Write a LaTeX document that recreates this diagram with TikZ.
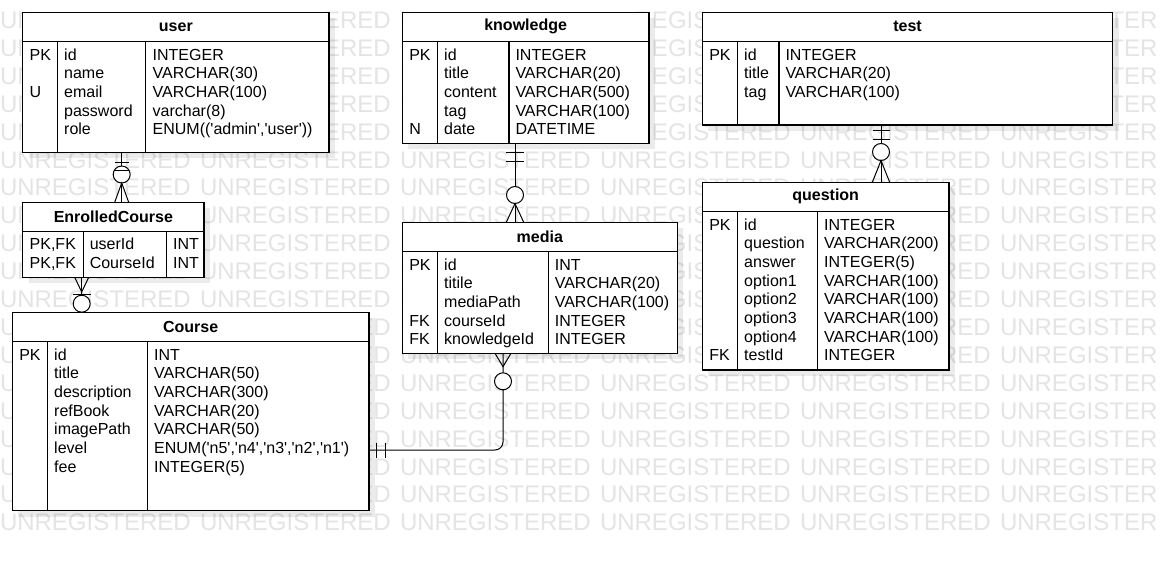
\documentclass[tikz,border=0pt]{standalone}
\usepackage{fontspec}
\setmainfont{Liberation Sans}
\definecolor{wm}{HTML}{E4E4E4}
\newcommand\mysq{\textquotesingle}
\newcount\wmcount
\gdef\wmcur{}
\def\wmtables{22.7/12.3/329/152.3, 22.7/202.3/204/277.3, 12.3/312.3/369/510.7, 402.3/12.3/649/143.3, 402.3/222.3/677.3/353.3, 702.3/12.3/1112.7/125, 702.3/182.3/949/370}
\newcommand\wmflush[1]{%
  \ifx\wmcur\empty\else
    \node[wmark] (wm-\the\wmcount) at ({\wmx},{#1+8.6}) {\wmcur};%
    \global\advance\wmcount by 1
    \gdef\wmcur{}%
  \fi}
\tikzset{
 x=1pt,y=-1pt,
 tbl/.style={draw=black, line width=1.2pt, fill=white, inner sep=0, outer sep=0},
 cell/.style={anchor=base west, inner sep=0, outer sep=0, font=\fontsize{16}{18}\selectfont},
 hdr/.style={anchor=center, inner sep=0, font=\fontsize{16}{18}\selectfont\bfseries},
 conn/.style={draw=black, line width=1pt},
 ring/.style={circle, draw=black, fill=white, line width=1pt, minimum size=17pt, inner sep=0},
 wmark/.style={anchor=base west, inner sep=0, outer sep=0, text=wm, font=\fontsize{24}{24}\selectfont}
}
% name, x1, y1, x2, yheader, y2, d1, d2, title
\newcommand\ertable[9]{%
 \fill[black, opacity=0.08] ({#2+6},{#3+6}) rectangle ({#4+6},{#6+6});
 \node[tbl, anchor=north west, minimum width={#4-#2}, minimum height={#6-#3}] (#1) at (#2,#3) {};
 \draw[line width=1.2pt] (#2,#5) -- (#4,#5);
 \draw[line width=1.2pt] (#7,#5) -- (#7,#6);
 \draw[line width=1.2pt] (#8,#5) -- (#8,#6);
 \node[hdr] (#1-title) at ({(#2+#4)/2},{(#3+#5)/2}) {#9};
}
% name, x, first baseline, list
\newcommand\ercol[4]{%
 \foreach [count=\i] \t in {#4} {\node[cell] (#1-\i) at ({#2},{#3+(\i-1)*18.67}) {\t};}
}
\begin{document}
\begin{tikzpicture}
\useasboundingbox (0,0) rectangle (1161,561);
\fill[white] (0,0) rectangle (1161,561);
% watermark (only the letters that are not hidden behind a table)
\begin{scope}
\clip (0,0) rectangle (1161,561);
\foreach \r in {0,...,18} {
  \pgfmathsetmacro\wy{20+\r*27.9}
  \foreach \c in {0,...,5} {
    \gdef\wmcur{}%
    \foreach \L/\o/\oo in {U/0/17.328, N/17.328/34.656, R/34.656/51.984, E/51.984/67.992, G/67.992/86.664, I/86.664/93.336, S/93.336/109.344, T/109.344/124.008, E/124.008/140.016, R/140.016/157.344, E/157.344/173.352, D/173.352/190.68} {
      \pgfmathsetmacro\lft{\c*200+\o}
      \pgfmathsetmacro\rgt{\c*200+\oo}
      \pgfmathtruncatemacro\hh{\rgt>1163}
      \xdef\wmhid{\hh}%
      \foreach \ax/\ay/\bx/\by in \wmtables {
        \pgfmathtruncatemacro\hh{(\lft>=\ax-2)&&(\rgt<=\bx+2)&&(\wy-8.6>=\ay-2)&&(\wy+8.6<=\by+2)}
        \ifnum\hh=1 \xdef\wmhid{1}\fi
      }
      \ifnum\wmhid=1
        \wmflush{\wy}%
      \else
        \ifx\wmcur\empty \xdef\wmx{\lft}\fi
        \xdef\wmcur{\wmcur\L}%
      \fi
    }
    \wmflush{\wy}%
  }
}
\end{scope}

% ---------- tables ----------
\ertable{user}{22.7}{12.3}{329}{41.3}{152.3}{57.7}{145.7}{user}
\ercol{user-a}{29.7}{60.1}{PK,{},U}
\ercol{user-b}{64.2}{60.1}{id,name,email,password,role}
\ercol{user-c}{152.7}{60.1}{INTEGER,VARCHAR(30),VARCHAR(100),varchar(8),{ENUM((\mysq admin\mysq,\mysq user\mysq))}}

\ertable{enr}{22.7}{202.3}{204}{231.3}{277.3}{83.3}{166.7}{EnrolledCourse}
\ercol{enr-a}{29.7}{249.8}{{PK,FK},{PK,FK}}
\ercol{enr-b}{89.8}{249.8}{userId,CourseId}
\ercol{enr-c}{173.2}{249.8}{INT,INT}

\ertable{course}{12.3}{312.3}{369}{341.3}{510.7}{47.7}{147.7}{Course}
\ercol{course-a}{19.3}{360.1}{PK}
\ercol{course-b}{54.2}{360.1}{id,title,description,refBook,imagePath,level,fee}
\ercol{course-c}{154.2}{360.1}{INT,VARCHAR(50),VARCHAR(300),VARCHAR(20),VARCHAR(50),{ENUM(\mysq n5\mysq,\mysq n4\mysq,\mysq n3\mysq,\mysq n2\mysq,\mysq n1\mysq)},INTEGER(5)}

\ertable{know}{402.3}{12.3}{649}{41.3}{143.3}{437.7}{509}{knowledge}
\ercol{know-a}{409.3}{60.1}{PK,{},{},{},N}
\ercol{know-b}{444.2}{60.1}{id,title,content,tag,date}
\ercol{know-c}{515.5}{60.1}{INTEGER,VARCHAR(20),VARCHAR(500),VARCHAR(100),DATETIME}

\ertable{media}{402.3}{222.3}{677.3}{251.3}{353.3}{437.7}{548.3}{media}
\ercol{media-a}{409.3}{270.1}{PK,{},{},FK,FK}
\ercol{media-b}{444.2}{270.1}{id,titile,mediaPath,courseId,knowledgeId}
\ercol{media-c}{554.8}{270.1}{INT,VARCHAR(20),VARCHAR(100),INTEGER,INTEGER}

\ertable{test}{702.3}{12.3}{1112.7}{41.3}{125}{737.7}{779}{test}
\ercol{test-a}{709.3}{60.1}{PK}
\ercol{test-b}{744.2}{60.1}{id,title,tag}
\ercol{test-c}{785.5}{60.1}{INTEGER,VARCHAR(20),VARCHAR(100)}

\ertable{quest}{702.3}{182.3}{949}{211.3}{370}{737.7}{817.7}{question}
\ercol{quest-a}{709.3}{230.1}{PK,{},{},{},{},{},{},FK}
\ercol{quest-b}{744.2}{230.1}{id,question,answer,option1,option2,option3,option4,testId}
\ercol{quest-c}{824.2}{230.1}{INTEGER,VARCHAR(200),INTEGER(5),VARCHAR(100),VARCHAR(100),VARCHAR(100),VARCHAR(100),INTEGER}

% ---------- connectors ----------
% user -- EnrolledCourse
\coordinate (c1) at (121.7,0);
\draw[conn] (user.south -| c1) -- (enr.north -| c1);
\draw[conn] (114.7,162.3) -- (128.7,162.3);
\node[ring] (r1) at (121.7,174.5) {};
\draw[conn] (114.2,170.5) -- (129.2,170.5);
\draw[conn] (114.7,202.3) -- (121.7,183) -- (128.7,202.3);

% EnrolledCourse -- Course
\coordinate (c2) at (81.7,0);
\draw[conn] (enr.south -| c2) -- (course.north -| c2);
\draw[conn] (74.7,277.3) -- (81.7,292) -- (88.7,277.3);
\node[ring] (r2) at (81.7,303.7) {};
\draw[conn] (72.7,294.5) -- (90.7,294.5);

% knowledge -- media
\coordinate (c3) at (515,0);
\draw[conn] (know.south -| c3) -- (media.north -| c3);
\draw[conn] (506,152.3) -- (524,152.3);
\draw[conn] (506,161.7) -- (524,161.7);
\node[ring] (r3) at (515,195) {};
\draw[conn] (506.3,222.3) -- (515,203.5) -- (523.7,222.3);

% test -- question
\coordinate (c4) at (881,0);
\draw[conn] (test.south -| c4) -- (quest.north -| c4);
\draw[conn] (872.5,131) -- (889.5,131);
\draw[conn] (872.5,140) -- (889.5,140);
\node[ring] (r4) at (881,152) {};
\draw[conn] (872.3,182.3) -- (881,160.5) -- (889.7,182.3);

% media -- Course
\coordinate (c5) at (503,0);
\coordinate (c5b) at (0,450);
\draw[conn, rounded corners=8pt] (media.south -| c5) |- (course.east |- c5b);
\draw[conn] (495,353.3) -- (503,366.7) -- (511,353.3);
\node[ring] (r5) at (503,381.3) {};
\draw[conn] (376.7,442.5) -- (376.7,457.5);
\draw[conn] (385,442.5) -- (385,457.5);
\end{tikzpicture}
\end{document}
